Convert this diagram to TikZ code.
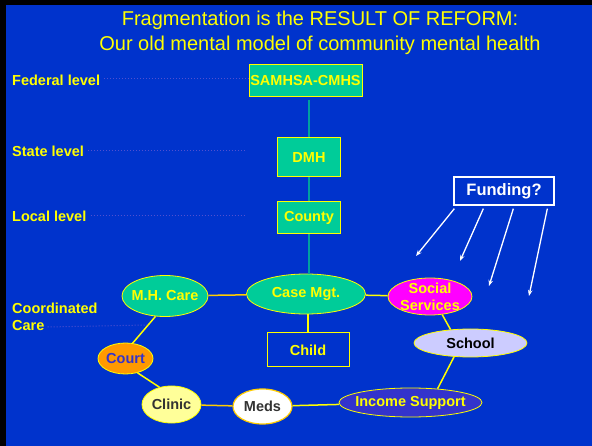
\documentclass[tikz,border=0pt]{standalone}
\usepackage{fontspec}
\setmainfont{Liberation Sans}
\usetikzlibrary{shapes.geometric,arrows.meta,calc}
\definecolor{bgblue}{HTML}{0033CC}
\definecolor{yel}{HTML}{FFFF00}
\definecolor{gold}{HTML}{FFCC00}
\definecolor{tealfill}{HTML}{00CC99}
\definecolor{tealline}{HTML}{00A0A0}
\definecolor{dotcol}{HTML}{5050D0}
\definecolor{courtfill}{HTML}{FF9900}
\definecolor{courttext}{HTML}{3333CC}
\definecolor{clinicfill}{HTML}{FFFF99}
\definecolor{darktext}{HTML}{333333}
\definecolor{incomefill}{HTML}{3333CC}
\definecolor{schoolfill}{HTML}{CCCCFF}
\definecolor{socialfill}{HTML}{FF00FF}
\begin{document}
\begin{tikzpicture}[x=1pt,y=-1pt,
  titletext/.style={text=yel, font=\fontsize{20}{24}\selectfont, inner sep=0},
  lbl/.style={font=\fontsize{14.5}{18}\selectfont\bfseries, text=yel, anchor=west, inner sep=0},
  box/.style={draw=yel, line width=1pt, fill=tealfill, text=yel, font=\fontsize{14.5}{16}\selectfont\bfseries, inner sep=0},
  ell/.style={ellipse, draw=yel, line width=0.8pt, inner sep=0, font=\fontsize{14.5}{16}\selectfont\bfseries},
  conn/.style={yel, line width=1.5pt},
  gconn/.style={gold, line width=1.5pt},
  tconn/.style={tealline, line width=1.5pt},
  dotline/.style={dotcol, line width=1pt, dash pattern=on 1pt off 2pt},
  farrow/.style={white, line width=1.3pt, -{Stealth[length=6pt,width=4.5pt]}}
]
\useasboundingbox (0,0) rectangle (592,446);
\fill[black] (0,0) rectangle (592,446);
\fill[bgblue] (6,5) rectangle (592,446);

% title
\node[titletext] (t1) at (320,20) {Fragmentation is the RESULT OF REFORM:};
\node[titletext] (t2) at (320,45) {Our old mental model of community mental health};

% level labels
\node[lbl] (fed) at (12,80) {Federal level};
\node[lbl] (state) at (12,151) {State level};
\node[lbl] (local) at (12,216) {Local level};
\node[lbl] (coord) at (12,308) {Coordinated};
\node[lbl] (care) at (12,326) {Care};

% hierarchy boxes
\node[box, minimum width=113pt, minimum height=32pt] (samhsa) at (305.5,81) {SAMHSA-CMHS};
\node[box, minimum width=63pt, minimum height=39pt] (dmh) at (309,157.5) {DMH};
\node[box, minimum width=63pt, minimum height=32pt] (county) at (309,218) {County};

% dotted guide lines
\coordinate (sdot) at (245,151);
\coordinate (ldot) at (245,216);
\coordinate (cdot) at (147,325);
\draw[dotline] ([xshift=4pt,yshift=1pt]fed.east) -- ([yshift=1pt]fed.east -| samhsa.west);
\draw[dotline] ([xshift=4pt]state.east) -- (sdot);
\draw[dotline] ([xshift=4pt]local.east) -- (ldot);
\draw[dotline] ([xshift=3pt,yshift=-1pt]care.east) -- (cdot);

% ellipses
\node[ell, fill=tealfill, text=yel, minimum width=119pt, minimum height=40pt] (casemgt) at (306,294) {Case Mgt.};
\node[ell, fill=tealfill, text=yel, minimum width=86pt, minimum height=41pt, inner xsep=-3.5pt] (mhcare) at (165,296) {M.H. Care};
\node[draw=yel, line width=1pt, fill=bgblue, text=yel, font=\fontsize{14.5}{16}\selectfont\bfseries, minimum width=82pt, minimum height=34pt, inner sep=0] (child) at (308,350) {Child};
\node[ell, fill=courtfill, text=courttext, minimum width=55pt, minimum height=31pt, inner xsep=-1pt] (court) at (125.5,358.5) {Court};
\node[ell, fill=clinicfill, text=darktext, minimum width=59pt, minimum height=37pt] (clinic) at (171.5,404.5) {Clinic};
\node[ell, draw=gold, line width=1.2pt, fill=white, text=darktext, minimum width=59pt, minimum height=35pt] (meds) at (262.5,406.5) {Meds};
\node[ell, fill=incomefill, text=yel, minimum width=143pt, minimum height=29pt, inner xsep=-6pt] (income) at (410.5,402.5) {Income Support};
\node[ell, fill=schoolfill, text=black, minimum width=113pt, minimum height=28pt] (school) at (470.5,343) {School};
\node[ell, fill=socialfill, text=yel, minimum width=84pt, minimum height=37pt, inner xsep=-1pt, inner ysep=-2pt, align=center, font=\fontsize{14.5}{17}\selectfont\bfseries] (social) at (430,296.5) {Social\\Services};

% funding box
\node[draw=white, line width=1.3pt, fill=bgblue, text=white, font=\fontsize{16.5}{18}\selectfont\bfseries, minimum width=100pt, minimum height=28pt, inner sep=0] (funding) at (504,191) {Funding?};

% vertical hierarchy connectors
\draw[tconn] (dmh.north) -- ([yshift=-3pt]dmh.north |- samhsa.south);
\draw[tconn] (county.north) -- (county.north |- dmh.south);
\draw[tconn] (county.south) -- (county.south |- casemgt.north);

% care network connectors
\draw[gconn] (mhcare) -- (casemgt);
\draw[conn] (casemgt) -- (social);
\draw[conn] (child.north) -- (child.north |- casemgt.south);
\draw[conn] (mhcare.245) -- (court.65);
\draw[conn] (court.-50) -- (clinic.125);
\draw[gconn] (clinic) -- (meds);
\draw[conn] (meds) -- (income);
\draw[conn] (income.27) -- (school.220);
\draw[conn] (social.304) -- (school.146);

% funding arrows
\coordinate (f1) at (416,256);
\coordinate (f2) at (460,261);
\coordinate (f3) at (489,286);
\coordinate (f4) at (529,296);
\draw[farrow] ([xshift=1pt,yshift=-3pt]funding.south west) -- (f1);
\draw[farrow] ([xshift=30pt,yshift=-3pt]funding.south west) -- (f2);
\draw[farrow] ([xshift=60pt,yshift=-3pt]funding.south west) -- (f3);
\draw[farrow] ([xshift=94pt,yshift=-3pt]funding.south west) -- (f4);
\end{tikzpicture}
\end{document}
